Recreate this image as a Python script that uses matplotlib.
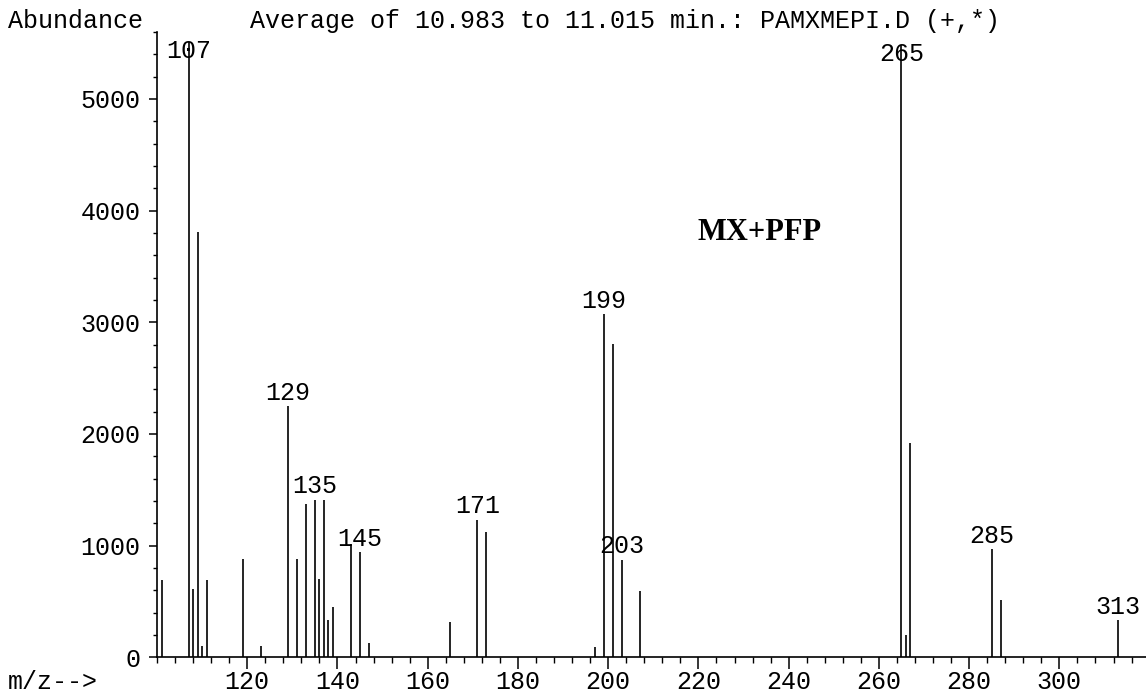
import matplotlib
matplotlib.use("Agg")
import matplotlib.pyplot as plt
from matplotlib.ticker import MultipleLocator, FixedLocator

# ---- data ----
mz = [101, 107, 108, 109, 110, 111, 119, 123, 129, 131, 133, 135, 136, 137, 138, 139,
      143, 145, 147, 165, 171, 173, 197, 199, 201, 203, 207, 265, 266, 267, 285, 287, 313]
abundance = [690, 5510, 610, 3810, 100, 690, 880, 105, 2250, 878, 1377, 1413, 702, 1410, 332, 448,
             1016, 941, 132, 314, 1234, 1120, 92, 3073, 2802, 875, 597, 5480, 200, 1920, 968, 517, 332]
labeled_peaks = [107, 129, 135, 145, 171, 199, 203, 265, 285, 313]
x_ticks = [120, 140, 160, 180, 200, 220, 240, 260, 280, 300]
y_ticks = [0, 1000, 2000, 3000, 4000, 5000]
title_text = "Average of 10.983 to 11.015 min.: PAMXMEPI.D (+,*)"
annotation_text = "MX+PFP"

mono = "Liberation Mono"
fs = 18

fig = plt.figure(figsize=(11.46, 6.95), dpi=100)
ax = fig.add_axes([157/1146, 1 - 657.3/695, 989/1146, 625.3/695])

ax.vlines(mz, 0, abundance, colors="black", linewidth=1.2)

ax.set_xlim(100, 319.2)
ax.set_ylim(0, 5600)

for s in ["top", "right"]:
    ax.spines[s].set_visible(False)
for s in ["left", "bottom"]:
    ax.spines[s].set_linewidth(1.2)

ax.xaxis.set_major_locator(FixedLocator(x_ticks))
ax.xaxis.set_minor_locator(MultipleLocator(4))
ax.yaxis.set_major_locator(FixedLocator(y_ticks))
ax.yaxis.set_minor_locator(MultipleLocator(200))
ax.set_xticklabels([str(t) for t in x_ticks], fontfamily=mono, fontsize=fs)
ax.set_yticklabels([str(t) for t in y_ticks], fontfamily=mono, fontsize=fs)
ax.tick_params(axis="x", which="major", direction="out", length=8.5, width=1.1, pad=1)
ax.tick_params(axis="x", which="minor", direction="out", length=4.3, width=1.0)
ax.tick_params(axis="y", which="major", direction="out", length=5.8, width=1.1, pad=6)
ax.tick_params(axis="y", which="minor", direction="out", length=3.2, width=1.0)

# peak labels
for m, a in zip(mz, abundance):
    if m in labeled_peaks:
        off = 4.5 if a < 5300 else -11.5
        ax.annotate(str(m), xy=(m, a), xytext=(0, off), textcoords="offset points",
                    ha="center", va="baseline", fontfamily=mono, fontsize=fs,
                    annotation_clip=False)

ax.text(233.6, 3737, annotation_text, ha="center", va="baseline",
        fontfamily="Liberation Serif", fontweight="bold", fontsize=22)

fig.text(8/1146, 1 - 28/695, "Abundance", ha="left", va="baseline", fontfamily=mono, fontsize=fs)
fig.text(250/1146, 1 - 28/695, title_text, ha="left", va="baseline", fontfamily=mono, fontsize=fs)
fig.text(8/1146, 1 - 689/695, "m/z-->", ha="left", va="baseline", fontfamily=mono, fontsize=fs)

fig.savefig("out.png", dpi=100, facecolor="white")
